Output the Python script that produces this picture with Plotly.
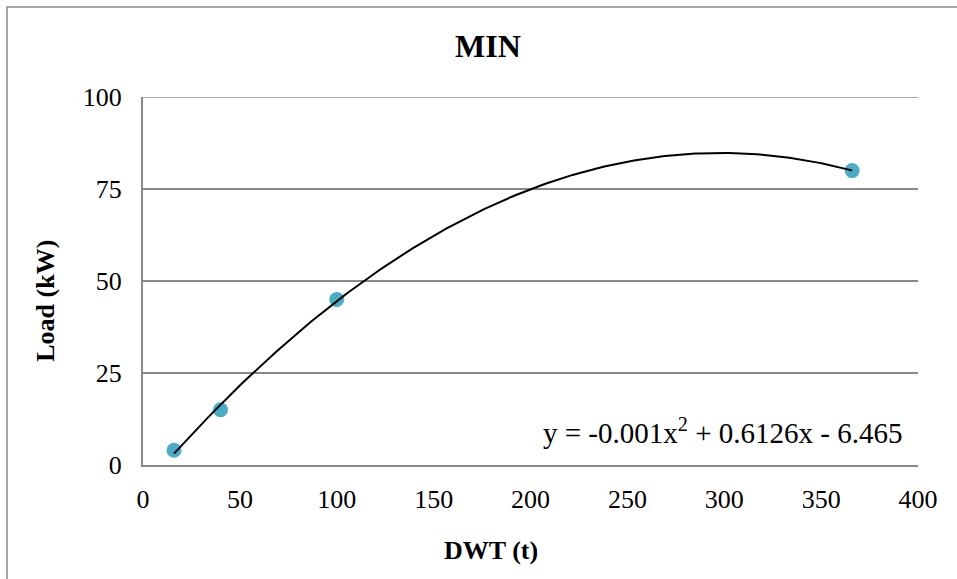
import numpy as np
import plotly.graph_objects as go

dwt = [16, 40, 100, 366]
load = [4, 15, 45, 80]
x_ticks = [0, 50, 100, 150, 200, 250, 300, 350, 400]
y_ticks = [0, 25, 50, 75, 100]
title = "MIN"
x_title = "DWT (t)"
y_title = "Load (kW)"
equation = "y = -0.001x<sup>2</sup> + 0.6126x - 6.465"

coef = np.polyfit(dwt, load, 2)
xs = np.linspace(min(dwt), max(dwt), 200)
ys = np.polyval(coef, xs)

FONT = "Liberation Serif, Times New Roman, serif"
L, R, T, B = 143, 918, 97, 465.5
W, H = 957, 579
GRID = "#898989"

fig = go.Figure()
fig.add_trace(go.Scatter(x=dwt, y=load, mode="markers",
                         marker=dict(color="#4BACC6", size=15), showlegend=False))
fig.add_trace(go.Scatter(x=xs, y=ys, mode="lines",
                         line=dict(color="black", width=2), showlegend=False))

fig.update_layout(
    width=W, height=H,
    margin=dict(l=L, r=W - R, t=T, b=H - B),
    paper_bgcolor="white", plot_bgcolor="white",
    font=dict(family=FONT, size=26, color="black"),
    title=dict(text="<b>" + title + "</b>", x=488 / W, xanchor="center",
               y=1 - 46 / H, yanchor="middle", font=dict(size=32, family=FONT)),
    xaxis=dict(range=[0, 400], tickvals=x_ticks, showgrid=False,
               showline=True, linecolor=GRID, linewidth=2, zeroline=False,
               ticks="", ticklabelstandoff=10, tickfont=dict(size=26, family=FONT)),
    yaxis=dict(range=[0, 100], tickvals=y_ticks, showgrid=True,
               gridcolor=GRID, gridwidth=1.5, showline=True,
               linecolor=GRID, linewidth=2, zeroline=False,
               ticks="", ticklabelstandoff=14, tickfont=dict(size=26, family=FONT)),
)

# top gridline at y = 100 (plotly omits the grid line on the range edge)
fig.add_shape(type="line", xref="paper", yref="y", x0=0, x1=1,
              y0=y_ticks[-1], y1=y_ticks[-1], line=dict(color=GRID, width=1.5))

fig.add_annotation(text="<b>" + x_title + "</b>", xref="paper", yref="paper",
                   x=(491 - L) / (R - L), y=-(551 - B) / (B - T),
                   showarrow=False, xanchor="center", yanchor="middle",
                   font=dict(size=26, family=FONT))
fig.add_annotation(text="<b>" + y_title + "</b>", xref="paper", yref="paper",
                   x=-(L - 46) / (R - L), y=(B - 301) / (B - T), textangle=-90,
                   showarrow=False, xanchor="center", yanchor="middle",
                   font=dict(size=26, family=FONT))
fig.add_annotation(text=equation, xref="paper", yref="paper",
                   x=(722 - L) / (R - L), y=(B - 431) / (B - T),
                   showarrow=False, xanchor="center", yanchor="middle",
                   font=dict(size=29, family=FONT))

# chart area border (extends past the visible window on right and bottom)
fig.add_shape(type="rect", xref="paper", yref="paper",
              x0=-(L - 7) / (R - L), x1=(985 - L) / (R - L),
              y0=-(600 - B) / (B - T), y1=(B - 7) / (B - T),
              line=dict(color=GRID, width=1.5), fillcolor="rgba(0,0,0,0)",
              layer="below")

fig.write_html("out.html")
